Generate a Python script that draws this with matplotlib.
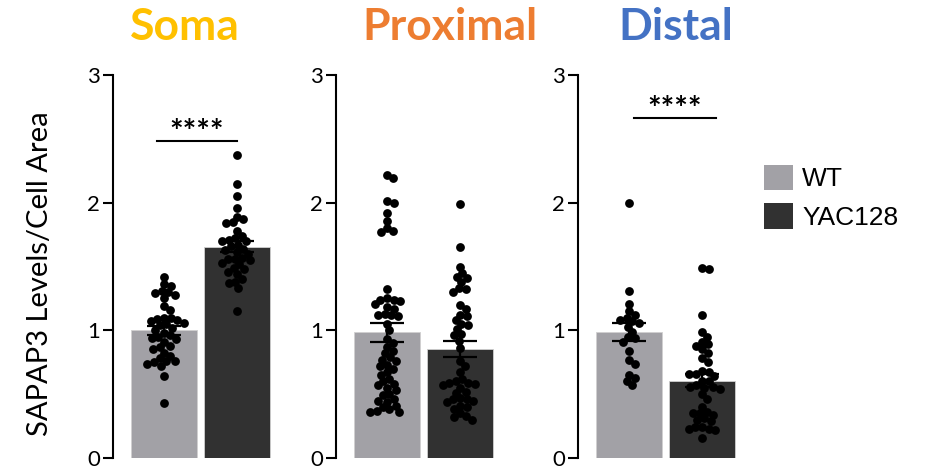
import numpy as np
import matplotlib
matplotlib.use("Agg")
import matplotlib.pyplot as plt
from matplotlib.patches import Patch

plt.rcParams["font.family"] = ["Lato", "DejaVu Sans"]

# ── data ──────────────────────────────────────────────────────
regions = ["Soma", "Proximal", "Distal"]
title_colors = ["#FFC000", "#ED7D31", "#4472C4"]
groups = ["WT", "YAC128"]
bar_colors = ["#A2A1A6", "#313131"]

soma_wt = [1.42, 1.36, 1.35, 1.31, 1.30, 1.29, 1.28, 1.25, 1.19, 1.16, 1.10, 1.10,
           1.09, 1.08, 1.07, 1.06, 1.05, 1.04, 1.02, 1.00, 0.98, 0.96, 0.95, 0.94,
           0.93, 0.91, 0.88, 0.87, 0.85, 0.82, 0.80, 0.78, 0.76, 0.76, 0.75, 0.74,
           0.72, 0.64, 0.43]
soma_yac = [2.37, 2.15, 2.05, 1.96, 1.89, 1.87, 1.85, 1.84, 1.78, 1.74, 1.72, 1.71,
            1.70, 1.70, 1.67, 1.66, 1.64, 1.63, 1.61, 1.60, 1.57, 1.56, 1.56, 1.55,
            1.53, 1.52, 1.49, 1.48, 1.46, 1.44, 1.40, 1.38, 1.37, 1.33, 1.15]
prox_wt = [2.22, 2.19, 2.01, 2.00, 1.92, 1.86, 1.80, 1.78, 1.77, 1.32, 1.25, 1.24,
           1.24, 1.23, 1.21, 1.18, 1.17, 1.13, 1.12, 1.12, 1.11, 1.05, 1.00, 0.93,
           0.90, 0.87, 0.84, 0.82, 0.79, 0.77, 0.76, 0.73, 0.72, 0.70, 0.67, 0.65,
           0.62, 0.60, 0.58, 0.57, 0.55, 0.53, 0.50, 0.49, 0.46, 0.45, 0.44, 0.41,
           0.40, 0.38, 0.37, 0.36, 0.36]
prox_yac = [1.99, 1.65, 1.50, 1.45, 1.42, 1.41, 1.38, 1.33, 1.32, 1.30, 1.20, 1.17,
            1.12, 1.11, 1.08, 1.05, 1.04, 1.01, 0.97, 0.96, 0.92, 0.86, 0.76, 0.72,
            0.67, 0.62, 0.60, 0.59, 0.59, 0.58, 0.57, 0.55, 0.52, 0.51, 0.47, 0.46,
            0.46, 0.45, 0.44, 0.41, 0.40, 0.38, 0.35, 0.33, 0.32, 0.30]
dist_wt = [2.00, 1.31, 1.21, 1.15, 1.12, 1.10, 1.08, 1.07, 1.06, 1.03, 0.99, 0.95,
           0.94, 0.91, 0.84, 0.77, 0.74, 0.65, 0.63, 0.60, 0.57]
dist_yac = [1.49, 1.48, 1.12, 0.99, 0.95, 0.91, 0.89, 0.88, 0.85, 0.82, 0.78, 0.75,
            0.68, 0.67, 0.66, 0.66, 0.64, 0.60, 0.60, 0.57, 0.56, 0.56, 0.55, 0.54,
            0.50, 0.46, 0.40, 0.36, 0.35, 0.35, 0.34, 0.31, 0.30, 0.29, 0.24, 0.24,
            0.23, 0.23, 0.22, 0.16]

panel_data = [(soma_wt, soma_yac), (prox_wt, prox_yac), (dist_wt, dist_yac)]
# significance: (panel index, x from, x to, line y, label)
sig_bars = [(0, -0.1, 1.0, 2.48, "****"), (2, 0.07, 1.19, 2.66, "****")]

# ── layout ────────────────────────────────────────────────────
W, H = 925, 469
PX_X = 73.0      # px per x unit
PX_Y = 127.7     # px per y unit
GAP = 6.8        # min distance between dot centres (px), dots may touch/overlap a bit
panel_left_px = [113, 336, 578]
title_x_px = [185, 450, 676]


def swarm(vals, d=GAP):
    """simple beeswarm: x offsets so dot centres stay d px apart"""
    order = np.argsort(vals)[::-1]
    placed = []
    offs = np.zeros(len(vals))
    for i in order:
        y = vals[i] * PX_Y
        near = [(px, py) for px, py in placed if abs(py - y) < d]
        cands = [0.0]
        for px, py in near:
            dx = np.sqrt(d * d - (py - y) ** 2)
            cands += [px + dx, px - dx]
        cands.sort(key=abs)
        for c in cands:
            if all((c - px) ** 2 + (y - py) ** 2 >= d * d - 1e-6 for px, py in near):
                offs[i] = c
                break
        placed.append((offs[i], y))
    return offs / PX_X


fig = plt.figure(figsize=(W / 100, H / 100), dpi=100)

bottom = (H - 458) / H
height = (458 - 75) / H
xlim = (-0.7, 1.5)
ax_w = (xlim[1] - xlim[0]) * PX_X / W

for k, (wt, yac) in enumerate(panel_data):
    ax = fig.add_axes([panel_left_px[k] / W, bottom, ax_w, height])
    for j, vals in enumerate((wt, yac)):
        vals = np.asarray(vals)
        m = vals.mean()
        sem = vals.std(ddof=1) / np.sqrt(len(vals))
        ax.bar(j, m, 0.9, color=bar_colors[j], edgecolor="#d0d0d0", linewidth=0.6, zorder=1)
        ax.scatter(j + swarm(vals), vals, s=40, color="black", linewidths=0, zorder=3)
        ax.errorbar(j, m, yerr=sem, color="black", capsize=12.5, elinewidth=1.6,
                    capthick=1.6, zorder=4)
    ax.set_xlim(*xlim)
    ax.set_ylim(0, 3)
    ax.set_yticks([0, 1, 2, 3])
    ax.set_xticks([])
    for s in ("top", "right", "bottom"):
        ax.spines[s].set_visible(False)
    ax.spines["left"].set_linewidth(1.5)
    ax.spines["left"].set_bounds(0, 3)
    ax.tick_params(axis="y", length=7.5, width=1.5, pad=2, labelsize=16)
    for pi, x0, x1, yl, lab in sig_bars:
        if pi == k:
            ax.plot([x0, x1], [yl, yl], color="black", lw=1.5, clip_on=False)
            ax.text((x0 + x1) / 2, yl - 0.05, lab, ha="center", va="bottom",
                    fontsize=23, fontweight="bold", clip_on=False)
    fig.text(title_x_px[k] / W, (H - 40) / H, regions[k], ha="center", va="baseline",
             fontsize=32, fontweight="bold", color=title_colors[k])

fig.text(40 / W, 1 - 274 / H, "SAPAP3 Levels/Cell Area", rotation=90,
         ha="center", va="center", fontsize=21)

handles = [Patch(facecolor=c, edgecolor="none") for c in bar_colors]
fig.legend(handles, groups, loc="upper left", bbox_to_anchor=(740 / W, 1 - 141 / H),
           frameon=False, prop={"family": "Liberation Sans", "size": 19},
           handlelength=1.1, handleheight=1.1, handletextpad=0.35, labelspacing=0.45)

fig.savefig("out.png", dpi=100)
